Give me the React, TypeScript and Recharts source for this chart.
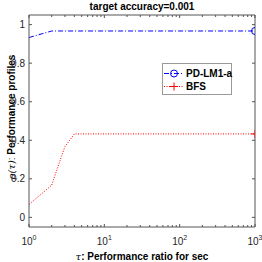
import React from 'react';
import { LineChart, Line, XAxis, YAxis, Legend } from 'recharts';

// tau values and profile values (30 problems)
const lmTau = [1, 2, 1000];
const lmRho = [0.933, 0.967, 0.967];
const bfsTau = [1, 2, 2.7, 3, 4, 1000];
const bfsRho = [0.067, 0.167, 0.317, 0.367, 0.433, 0.433];

const seriesNames = ['PD-LM1-a', 'BFS'];
const seriesColors = ['#0000ff', '#ff0000'];

const xMajor = [1, 10, 100, 1000];
const xTicks = [1, 2, 3, 4, 5, 6, 7, 8, 9, 10, 20, 30, 40, 50, 60, 70, 80, 90, 100, 200, 300, 400, 500, 600, 700, 800, 900, 1000];
const yTicks = [0, 0.2, 0.4, 0.6, 0.8, 1];

const lmData = lmTau.map((x, i) => ({ x, y: lmRho[i] }));
const bfsData = bfsTau.map((x, i) => ({ x, y: bfsRho[i] }));

const FONT = '"Liberation Sans", Arial, sans-serif';
const AXIS = '#555';
const TEXT = '#262626';

const BottomTick = (props: any) => {
    const { x, y, payload } = props;
    const major = xMajor.includes(payload.value);
    const exp = Math.round(Math.log10(payload.value));
    return (
        <g>
            <line x1={x} x2={x} y1={y} y2={y - (major ? 3 : 2)} stroke={AXIS} />
            {major && (
                <text x={x} y={y + 18} textAnchor="middle" fill={TEXT} fontSize={10} fontFamily={FONT}>
                    10<tspan dy={-5} fontSize={7}>{exp}</tspan>
                </text>
            )}
        </g>
    );
};

const TopTick = (props: any) => {
    const { x, y, payload } = props;
    const major = xMajor.includes(payload.value);
    return <line x1={x} x2={x} y1={y} y2={y + (major ? 3 : 2)} stroke={AXIS} />;
};

const LeftTick = (props: any) => {
    const { x, y, payload } = props;
    return (
        <g>
            <line x1={x} x2={x + 3} y1={y} y2={y} stroke={AXIS} />
            <text x={x - 4} y={y + 3.5} textAnchor="end" fill={TEXT} fontSize={10} fontFamily={FONT}>
                {String(payload.value)}
            </text>
        </g>
    );
};

const RightTick = (props: any) => {
    const { x, y } = props;
    return <line x1={x} x2={x - 3} y1={y} y2={y} stroke={AXIS} />;
};

const endDot = (kind: 'circle' | 'plus', count: number) => (props: any) => {
    const { cx, cy, index } = props;
    if (index !== count - 1) return <g key={`d${index}`} />;
    if (kind === 'circle') {
        return <circle key={`d${index}`} cx={cx} cy={cy} r={3.5} fill="none" stroke={seriesColors[0]} strokeWidth={1} />;
    }
    return (
        <g key={`d${index}`}>
            <line x1={cx - 4} x2={cx + 4} y1={cy} y2={cy} stroke={seriesColors[1]} strokeWidth={1} />
            <line x1={cx} x2={cx} y1={cy - 4} y2={cy + 4} stroke={seriesColors[1]} strokeWidth={1} />
        </g>
    );
};

const LegendBox = () => (
    <div
        style={{
            border: '1px solid #999',
            background: '#fff',
            width: 70,
            boxSizing: 'border-box',
            padding: '3px 0 1px',
            fontFamily: FONT,
            fontSize: 10,
            fontWeight: 'bold',
            color: '#000',
            lineHeight: '13px',
            whiteSpace: 'nowrap',
        }}
    >
        {seriesNames.map((name, i) => (
            <div key={name} style={{ display: 'flex', alignItems: 'center', height: 13 }}>
                <svg width={23} height={13} style={{ flex: 'none' }}>
                    <line
                        x1={1}
                        x2={21}
                        y1={6.5}
                        y2={6.5}
                        stroke={seriesColors[i]}
                        strokeDasharray={i === 0 ? '5 2 1 2' : '1 1.5'}
                    />
                    {i === 0 ? (
                        <circle cx={11} cy={6.5} r={3.5} fill="none" stroke={seriesColors[0]} />
                    ) : (
                        <g stroke={seriesColors[1]}>
                            <line x1={7} x2={15} y1={6.5} y2={6.5} />
                            <line x1={11} x2={11} y1={2.5} y2={10.5} />
                        </g>
                    )}
                </svg>
                <span>{name}</span>
            </div>
        ))}
    </div>
);

export default function App() {
    return (
        <div style={{ position: 'absolute', left: 0, top: 0, width: 262, height: 262, background: '#fff' }}>
            <LineChart width={262} height={262} margin={{ top: 0, right: 0, bottom: 0, left: 0 }}>
                <XAxis
                    xAxisId="bottom"
                    dataKey="x"
                    type="number"
                    scale="log"
                    domain={[1, 1000]}
                    allowDataOverflow
                    ticks={xTicks}
                    interval={0}
                    height={35}
                    tickSize={0}
                    tickMargin={0}
                    tickLine={false}
                    tick={<BottomTick />}
                    axisLine={{ stroke: AXIS }}
                    label={{
                        content: () => (
                            <text x={142} y={260} textAnchor="middle" fill="#000" fontSize={10} fontFamily={FONT} fontWeight="bold">
                                <tspan fontStyle="italic" fontWeight="normal" fontFamily="'DejaVu Serif', serif">τ</tspan>
                                <tspan>: Performance ratio for sec</tspan>
                            </text>
                        ),
                    }}
                />
                <XAxis
                    xAxisId="top"
                    orientation="top"
                    dataKey="x"
                    type="number"
                    scale="log"
                    domain={[1, 1000]}
                    allowDataOverflow
                    ticks={xTicks}
                    interval={0}
                    height={15}
                    tickSize={0}
                    tickMargin={0}
                    tickLine={false}
                    tick={<TopTick />}
                    axisLine={{ stroke: AXIS }}
                    label={{
                        content: () => (
                            <text x={142} y={10} textAnchor="middle" fill="#000" fontSize={10} fontFamily={FONT} fontWeight="bold">
                                target accuracy=0.001
                            </text>
                        ),
                    }}
                />
                <YAxis
                    yAxisId="left"
                    type="number"
                    domain={[-0.05, 1.05]}
                    allowDataOverflow
                    ticks={yTicks}
                    interval={0}
                    width={29}
                    tickSize={0}
                    tickMargin={0}
                    tickLine={false}
                    tick={<LeftTick />}
                    axisLine={{ stroke: AXIS }}
                    label={{
                        content: () => (
                            <text
                                x={15}
                                y={117}
                                transform="rotate(-90 15 117)"
                                textAnchor="middle"
                                fill="#000"
                                fontSize={10}
                                fontFamily={FONT}
                                fontWeight="bold"
                            >
                                <tspan fontStyle="italic" fontWeight="normal" fontFamily="'DejaVu Serif', serif">ρ(τ)</tspan>
                                <tspan fontWeight="normal">: </tspan>
                                <tspan> Performance profiles</tspan>
                            </text>
                        ),
                    }}
                />
                <YAxis
                    yAxisId="right"
                    orientation="right"
                    type="number"
                    domain={[-0.05, 1.05]}
                    allowDataOverflow
                    ticks={yTicks}
                    interval={0}
                    width={7}
                    tickSize={0}
                    tickMargin={0}
                    tickLine={false}
                    tick={<RightTick />}
                    axisLine={{ stroke: AXIS }}
                />
                <Line
                    xAxisId="bottom"
                    yAxisId="left"
                    data={lmData}
                    dataKey="y"
                    name={seriesNames[0]}
                    type="linear"
                    stroke={seriesColors[0]}
                    strokeWidth={1}
                    strokeDasharray="5 2 1 2"
                    dot={endDot('circle', lmData.length)}
                    activeDot={false}
                    isAnimationActive={false}
                />
                <Line
                    xAxisId="bottom"
                    yAxisId="left"
                    data={bfsData}
                    dataKey="y"
                    name={seriesNames[1]}
                    type="linear"
                    stroke={seriesColors[1]}
                    strokeWidth={1}
                    strokeDasharray="1 1.5"
                    dot={endDot('plus', bfsData.length)}
                    activeDot={false}
                    isAnimationActive={false}
                />
                <Legend
                    layout="vertical"
                    align="center"
                    verticalAlign="middle"
                    content={() => <LegendBox />}
                    wrapperStyle={{ position: 'absolute', left: 162, top: 63, width: 71 }}
                />
            </LineChart>
        </div>
    );
}
